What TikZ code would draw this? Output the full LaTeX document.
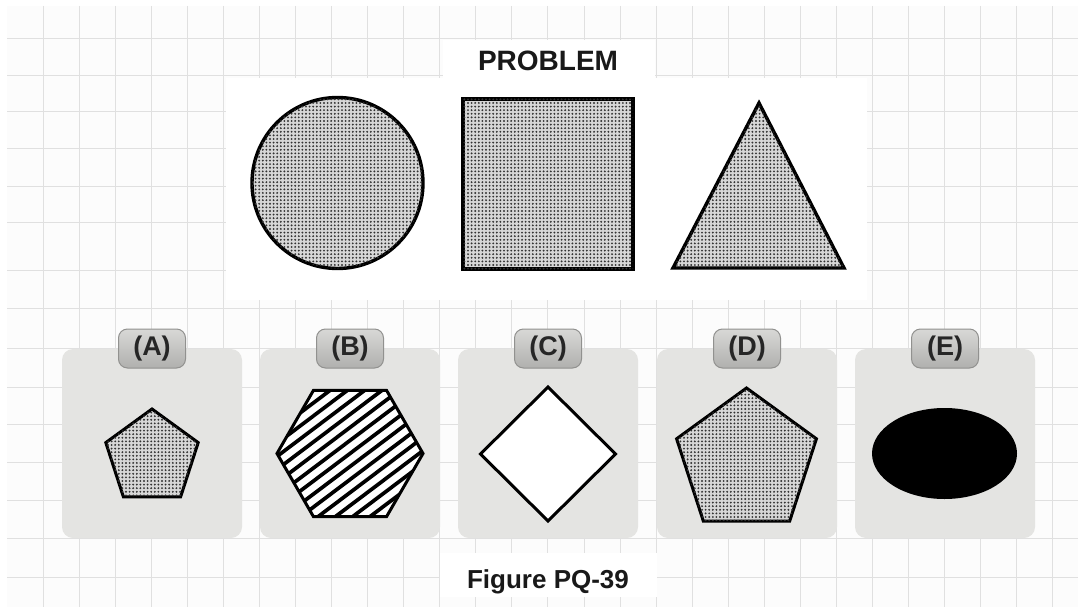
\documentclass[tikz,border=0pt]{standalone}
\usepackage{fontspec}
\setmainfont{Liberation Sans}
\usetikzlibrary{patterns.meta}
\definecolor{gridc}{RGB}{224,224,224}
\definecolor{panelc}{RGB}{228,228,226}
\definecolor{tabtop}{RGB}{216,216,214}
\definecolor{tabbot}{RGB}{176,176,174}
\definecolor{tabedge}{RGB}{145,145,143}
\definecolor{dotbg}{RGB}{215,215,215}
\tikzset{
  gridline/.style={draw=gridc, line width=1pt},
  stipple/.style={fill=dotbg, postaction={pattern={Dots[distance=3.6pt, radius=1.05pt]}, pattern color=black!80}},
  bigshape/.style={draw=black, line width=3.4pt, line join=miter},
  smallshape/.style={draw=black, line width=3pt, line join=miter},
  stripe/.style={draw=black, line width=3.7pt},
  panelbox/.style={fill=panelc, rounded corners=11pt},
  tabbox/.style={draw=tabedge, line width=1pt, rounded corners=9pt, top color=tabtop, bottom color=tabbot,
    minimum width=67pt, minimum height=39pt, inner sep=0pt, font=\bfseries\fontsize{27}{29}\selectfont, text=black!85},
  titletext/.style={font=\bfseries\fontsize{28}{30}\selectfont, text=black!90},
  captiontext/.style={font=\bfseries\fontsize{26}{28}\selectfont, text=black!90}
}
\begin{document}
\begin{tikzpicture}[x=1pt,y=-1pt]
\useasboundingbox (0,0) rectangle (1078,607);
\fill[white] (0,0) rectangle (1078,607);
\fill[black!1] (7,6) rectangle (1078,607);
% grid
\foreach \k in {0,...,28} \draw[gridline] ({43+36.07*\k},6) -- ({43+36.07*\k},607);
\foreach \yy in {39,76,112,148,186,222,270,308,348,387,424,462,500,538,577} \draw[gridline] (7,\yy) -- (1078,\yy);
% white areas
\fill[white] (226,78) rectangle (867,300);
\fill[white] (443,40) rectangle (655,78);
\fill[white] (440,553) rectangle (657,597);

% title
\node[titletext] (title) at (548,61) {PROBLEM};

% problem shapes
\path[stipple, bigshape] (337.5,183) circle (85.5pt);
\path[stipple, bigshape] (463,99) rectangle (633,269);
\path[stipple, bigshape] (759,103) -- (844,268) -- (673,268) -- cycle;

% panels
\foreach \cx in {152,350,548,747,945}
  \fill[panelbox] ({\cx-90},349) rectangle ({\cx+90},538);

% A: small stippled pentagon
\path[stipple, smallshape] (152,409) -- (198.2,442.6) -- (180.6,496.9) -- (123.4,496.9) -- (105.8,442.6) -- cycle;

% B: striped hexagon
\fill[white] (423,453.5) -- (386.5,390.3) -- (313.5,390.3) -- (277,453.5) -- (313.5,516.7) -- (386.5,516.7) -- cycle;
\begin{scope}
  \clip (423,453.5) -- (386.5,390.3) -- (313.5,390.3) -- (277,453.5) -- (313.5,516.7) -- (386.5,516.7) -- cycle;
  \foreach \k in {-11,...,11}
    \draw[stripe] ({350+\k*10.4*0.602-130*0.799},{453.5+\k*10.4*0.799+130*0.602}) -- ({350+\k*10.4*0.602+130*0.799},{453.5+\k*10.4*0.799-130*0.602});
\end{scope}
\draw[smallshape] (423,453.5) -- (386.5,390.3) -- (313.5,390.3) -- (277,453.5) -- (313.5,516.7) -- (386.5,516.7) -- cycle;

% C: white diamond
\path[fill=white, smallshape] (548,387) -- (615.5,454) -- (548,521) -- (480.5,454) -- cycle;

% D: large stippled pentagon
\path[stipple, smallshape] (746.5,388) -- (816.4,438.8) -- (789.7,521) -- (703.3,521) -- (676.6,438.8) -- cycle;

% E: black ellipse
\fill[black] (944.5,453.5) ellipse (72.5pt and 45.5pt);

% tabs
\node[tabbox] (tabA) at (152,348.5) {(A)};
\node[tabbox] (tabB) at (350,348.5) {(B)};
\node[tabbox] (tabC) at (548,348.5) {(C)};
\node[tabbox] (tabD) at (747,348.5) {(D)};
\node[tabbox] (tabE) at (945,348.5) {(E)};

% caption
\node[captiontext, anchor=base] (caption) at (548,588) {Figure PQ-39};
\end{tikzpicture}
\end{document}
